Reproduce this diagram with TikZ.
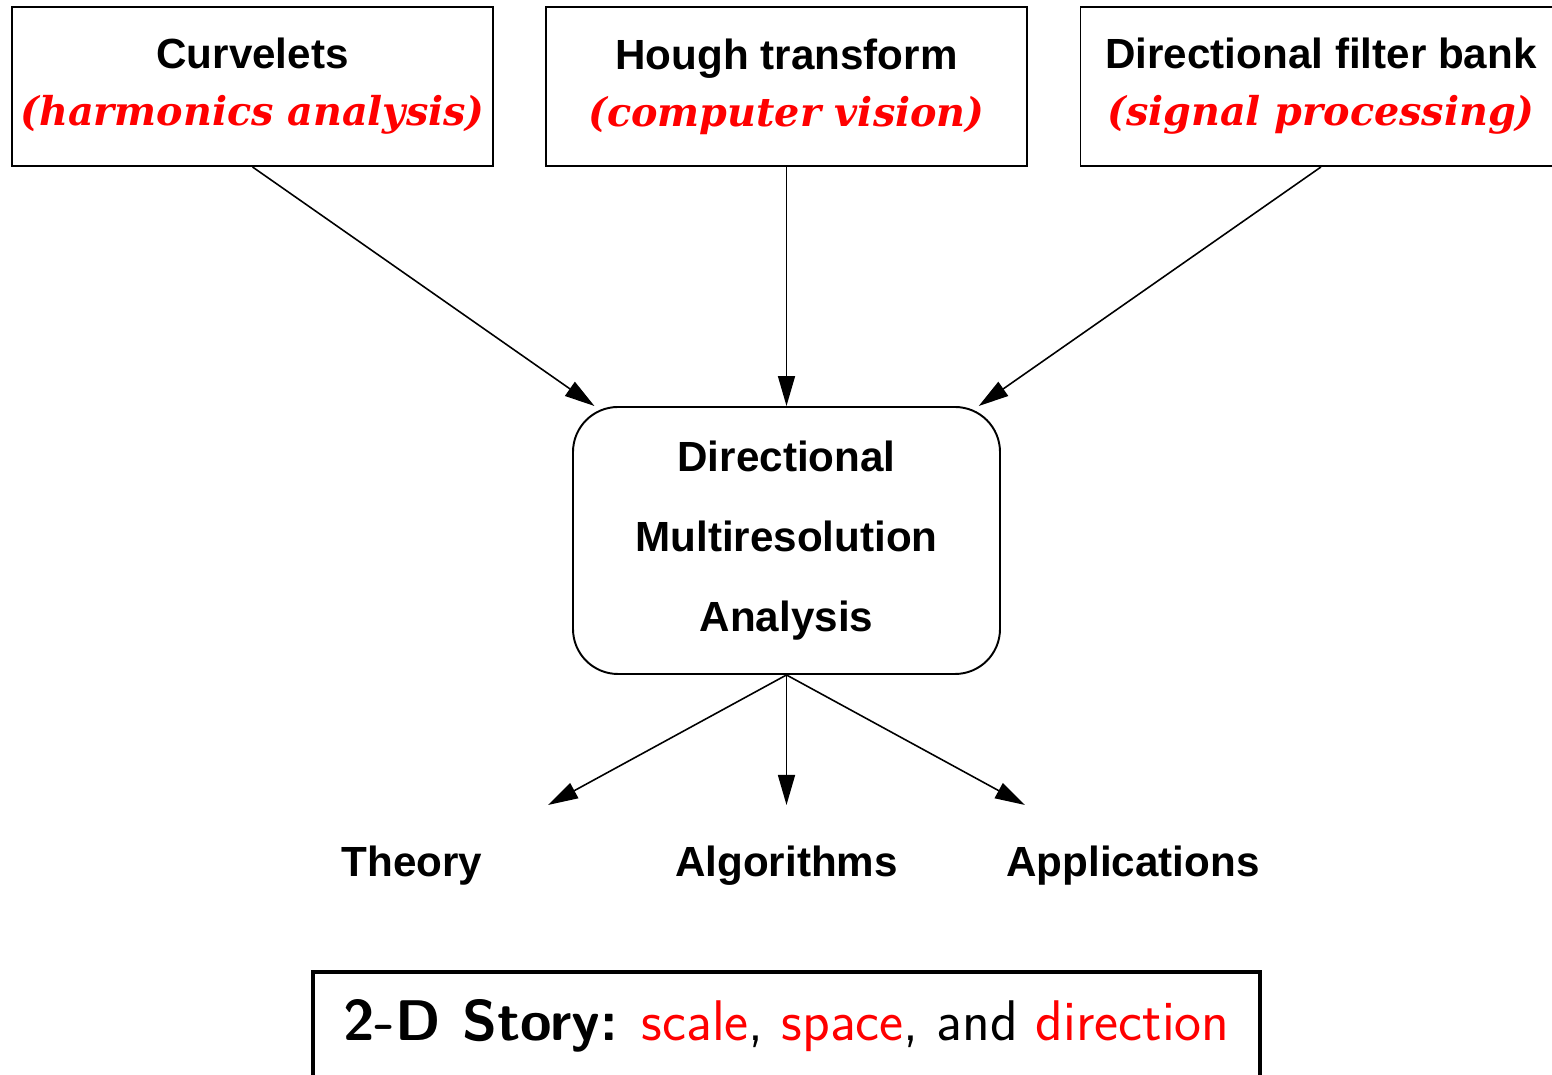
\documentclass[tikz,border=0pt]{standalone}
\usepackage{fontspec}
\setmainfont{Liberation Sans}
\newfontfamily\slabfont{DejaVu Serif}
\usetikzlibrary{arrows.meta,positioning}
\newcommand{\field}[1]{{\slabfont\fontsize{11.3}{16.2}\selectfont\bfseries\itshape\color{red}#1}}

\begin{document}
\begin{tikzpicture}[
    topbox/.style={draw,line width=0.55pt,inner xsep=1pt,minimum width=4.81cm,minimum height=1.59cm,align=center,font=\fontsize{12}{16.2}\selectfont\bfseries},
    midbox/.style={draw,line width=0.55pt,rounded corners=0.45cm,minimum width=4.27cm,minimum height=2.67cm,align=center,font=\fontsize{12}{22.8}\selectfont\bfseries},
    leaf/.style={font=\fontsize{12}{14}\selectfont\bfseries},
    >={Triangle[length=3mm,width=1.7mm]}]
    \useasboundingbox (0,0) rectangle (15.52,-10.75);

    % three sources
    \node[topbox] (curv) at (2.525,-0.865) {Curvelets\\\field{(harmonics analysis)}};
    \node[topbox] (hough) at (7.865,-0.865) {Hough transform\\\field{(computer vision)}};
    \node[topbox] (dfb) at (13.21,-0.865) {Directional filter bank\\\field{(signal processing)}};

    % the core
    \node[midbox] (dmra) at (7.865,-5.405) {Directional\\Multiresolution\\Analysis};

    \draw[->,line width=0.45pt] (curv.south) -- (dmra);
    \draw[->,line width=0.45pt] (hough.south) -- (dmra.north);
    \draw[->,line width=0.45pt] (dfb.south) -- (dmra);

    % outcomes
    \coordinate (thEnd) at (5.48,-8.05);
    \coordinate (alEnd) at (7.865,-8.05);
    \coordinate (apEnd) at (10.25,-8.05);
    \draw[->,line width=0.45pt] (dmra.south) -- (thEnd);
    \draw[->,line width=0.45pt] (dmra.south) -- (alEnd);
    \draw[->,line width=0.45pt] (dmra.south) -- (apEnd);

    \node[leaf] (theory) at (4.12,-8.66) {Theory};
    \node[leaf] (algo) at (7.865,-8.66) {Algorithms};
    \node[leaf] (appl) at (11.33,-8.66) {Applications};

    \node[draw,line width=1.1pt,minimum width=9.47cm,minimum height=1.08cm,font=\sffamily\fontsize{16.3}{19}\selectfont] (story) at (7.865,-10.26)
        {\textbf{2-D Story:} \textcolor{red}{scale}, \textcolor{red}{space}, and \textcolor{red}{direction}};
\end{tikzpicture}
\end{document}
